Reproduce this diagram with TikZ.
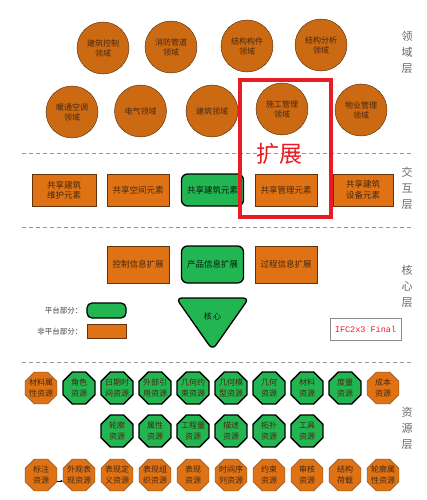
\documentclass[tikz,border=0pt]{standalone}
\usepackage{fontspec}
\setmainfont{Noto Sans CJK SC}
\newfontfamily\ifcfont{Liberation Mono}
\usetikzlibrary{shapes.geometric, arrows.meta}
\definecolor{domorange}{RGB}{204,106,20}
\definecolor{elemorange}{RGB}{222,114,20}
\definecolor{platgreen}{RGB}{34,182,82}
\definecolor{txtdark}{RGB}{70,40,15}
\definecolor{expred}{RGB}{232,28,36}
\tikzset{
		>=stealth,
		domcircle/.style={circle, draw=black!65!domorange, fill=domorange, minimum size=52pt, inner sep=0pt,
			align=center, text=txtdark, font=\fontsize{8}{10}\selectfont},
		elembox/.style={rectangle, draw=black!55!elemorange, fill=elemorange, minimum width=62pt,
			minimum height=32pt, inner sep=0pt, align=center, text=txtdark, font=\fontsize{8.5}{10.5}\selectfont},
		platbox/.style={elembox, draw=black, line width=1.3pt, fill=platgreen, rounded corners=6pt,
			text=black!85!platgreen},
		resocto/.style={regular polygon, regular polygon sides=8, minimum size=34.6pt, inner sep=0pt,
			draw=black!55!elemorange, fill=elemorange},
		resgreen/.style={resocto, draw=black, line width=1.3pt, fill=platgreen},
		restxt/.style={align=center, inner sep=0pt, text=txtdark, font=\fontsize{8}{10.5}\selectfont},
		layername/.style={align=center, text=black!60, font=\fontsize{11}{16}\selectfont},
		sepline/.style={draw=black!40, line width=1pt, dash pattern=on 4pt off 3pt}
	}

\begin{document}
\begin{tikzpicture}[x=1pt, y=-1pt]
		\useasboundingbox (0,0) rectangle (427,500);
		% Domain layer
		\node[domcircle] (d1) at (103,48) {建筑控制\\领域};
		\node[domcircle] (d2) at (171,47) {消防管道\\领域};
		\node[domcircle] (d3) at (247,46) {结构构件\\领域};
		\node[domcircle] (d4) at (321,45) {结构分析\\领域};
		\node[domcircle] (d5) at (72,112) {暖通空调\\领域};
		\node[domcircle] (d6) at (140.5,111) {电气领域};
		\node[domcircle] (d7) at (212,111) {建筑领域};
		\node[domcircle] (d8) at (282,109) {施工管理\\领域};
		\node[domcircle] (d9) at (361,110) {物业管理\\领域};
		% Separators
		\foreach \y in {153,227,362} {
			\draw[sepline] (22,\y) -- (413,\y);
		}
		% Interaction layer
		\node[elembox, minimum width=64pt] (e1) at (64,190) {共享建筑\\维护元素};
		\node[elembox] (e2) at (138,190) {共享空间元素};
		\node[platbox] (e3) at (212.5,190) {共享建筑元素};
		\node[elembox] (e4) at (286,190) {共享管理元素};
		\node[elembox, minimum width=60pt] (e5) at (363,190) {共享建筑\\设备元素};
		% Core layer
		\node[elembox, minimum height=37pt] (c1) at (138,264.5) {控制信息扩展};
		\node[platbox, minimum height=37pt] (c2) at (212.5,264.5) {产品信息扩展};
		\node[elembox, minimum height=37pt] (c3) at (286,264.5) {过程信息扩展};
		\draw[line width=1.3pt, fill=platgreen, rounded corners=6pt] (176,298) -- (249,298) -- (212.5,350) -- cycle;
		\node[text=black!85!platgreen, font=\fontsize{8}{10}\selectfont] (core) at (212.5,316) {核\,心};
		% Legend
		\node[anchor=east, text=black!75, font=\fontsize{7.5}{9}\selectfont] (lp) at (86,311) {平台部分：};
		\node[anchor=east, text=black!75, font=\fontsize{7.5}{9}\selectfont] (ln) at (86,331.5) {非平台部分：};
		\node[platbox, minimum width=39pt, minimum height=15pt, rounded corners=5pt] (kp) at (106.5,310.5) {};
		\node[elembox, minimum width=39pt, minimum height=14pt] (kn) at (106.5,331.5) {};
		\node[draw=black!45, line width=0.8pt, minimum width=71pt, minimum height=22pt, inner sep=0pt,
			text=expred, font=\ifcfont\fontsize{8.5}{10}\selectfont] (ifc) at (365.5,329) {IFC2x3 Final};
		% Resource layer
		\foreach \i/\s/\t in {0/resocto/材料属\\性资源, 1/resgreen/角色\\资源, 2/resgreen/日期时\\间资源,
			3/resgreen/外部引\\用资源, 4/resgreen/几何约\\束资源, 5/resgreen/几何模\\型资源,
			6/resgreen/几何\\资源, 7/resgreen/材料\\资源, 8/resgreen/度量\\资源, 9/resocto/成本\\资源} {
			\node[\s, label={[restxt]center:\t}] (ra-\i) at (41+38*\i,388) {};
		}
		\foreach \i/\t in {2/轮廓\\资源, 3/属性\\资源, 4/工程量\\资源, 5/描述\\资源, 6/拓扑\\资源, 7/工具\\资源} {
			\node[resgreen, label={[restxt]center:\t}] (rb-\i) at (41+38*\i,431) {};
		}
		\foreach \i/\t in {0/标注\\资源, 1/外观表\\现资源, 2/表现定\\义资源, 3/表现组\\织资源, 4/表现\\资源,
			5/时间序\\列资源, 6/约束\\资源, 7/审核\\资源, 8/结构\\荷载, 9/轮廓属\\性资源} {
			\node[resocto, label={[restxt]center:\t}] (rc-\i) at (41+38*\i,475) {};
		}
		\draw[-{Stealth[length=2.5pt, width=2.5pt]}, black] ([yshift=-6pt]rc-0.east) -- ([yshift=-6pt]rc-1.west);
		% Layer names
		\node[layername] (ld) at (407,52) {领\\域\\层};
		\node[layername] (li) at (407,188) {交\\互\\层};
		\node[layername] (lc) at (407,286) {核\\心\\层};
		\node[layername] (lr) at (407,428) {资\\源\\层};
		% Extension
		\draw[expred, line width=4pt] (240,80) rectangle (331,217);
		\node[text=expred, font=\fontsize{23}{25}\selectfont] (ext) at (279,154) {扩展};
	\end{tikzpicture}
\end{document}
